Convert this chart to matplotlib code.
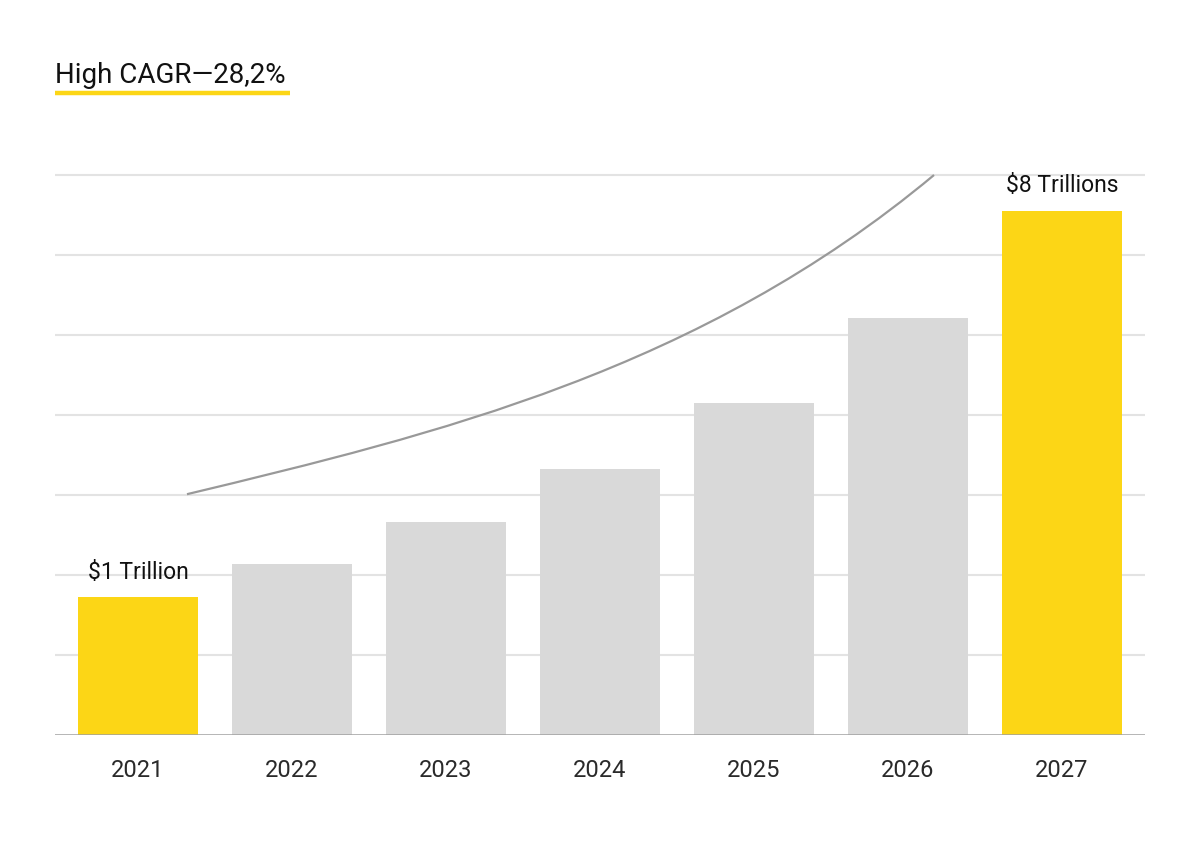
import matplotlib
matplotlib.use("Agg")
import matplotlib.pyplot as plt
from matplotlib.lines import Line2D
from matplotlib.path import Path
from matplotlib.patches import PathPatch

plt.rcParams['font.family'] = ['Roboto', 'DejaVu Sans']

# data (grid step = 1 unit)
years = ['2021', '2022', '2023', '2024', '2025', '2026', '2027']
values = [1.72, 2.14, 2.66, 3.33, 4.15, 5.21, 6.55]
highlight = [True, False, False, False, False, False, True]
bar_labels = {0: '$1 Trillion', 6: '$8 Trillions'}
grid_levels = [1, 2, 3, 4, 5, 6, 7]

# trend curve as a cubic bezier: start, two control points, end
curve_x = [0.318, 1.94, 3.65, 5.169]
curve_y = [3.01, 3.76, 4.56, 7.00]

title = 'High CAGR\u201428,2%'

yellow = '#FCD616'
grey_bar = '#D9D9D9'

fig = plt.figure(figsize=(12, 8.44), dpi=100)
ax = fig.add_axes([55 / 1200, 109 / 844, 1090 / 1200, 576 / 844])

# grid lines
for g in grid_levels:
    ax.axhline(g, color='#E3E3E3', lw=1.5, zorder=0)

x = range(len(years))
colors = [yellow if h else grey_bar for h in highlight]
ax.bar(x, values, width=0.773, color=colors, zorder=2)

ax.axhline(0, color='#A0A0A0', lw=1.8, zorder=3)

curve = Path(list(zip(curve_x, curve_y)),
             [Path.MOVETO, Path.CURVE4, Path.CURVE4, Path.CURVE4])
ax.add_patch(PathPatch(curve, facecolor='none', edgecolor='#999999', lw=1.6, zorder=3))

for i, txt in bar_labels.items():
    ax.annotate(txt, (i, values[i]), xytext=(0, 13.5), textcoords='offset points',
                ha='center', va='baseline', fontsize=16.5, color='#111111')

ax.set_xlim(-0.539, 6.539)
ax.set_ylim(0, 7.2)
ax.set_xticks(list(x))
ax.set_xticklabels(years, fontsize=17, color='#2A2A2A')
ax.tick_params(axis='x', length=0, pad=17)
ax.set_yticks([])
for s in ax.spines.values():
    s.set_visible(False)

# title with yellow underline
fig.text(55 / 1200, 1 - 83 / 844, title, fontsize=20, color='#111111',
         ha='left', va='baseline')
fig.add_artist(Line2D([55 / 1200, 290 / 1200], [1 - 93 / 844, 1 - 93 / 844],
                      color=yellow, lw=3.2, solid_capstyle='butt'))

fig.savefig('out.png', dpi=100)
